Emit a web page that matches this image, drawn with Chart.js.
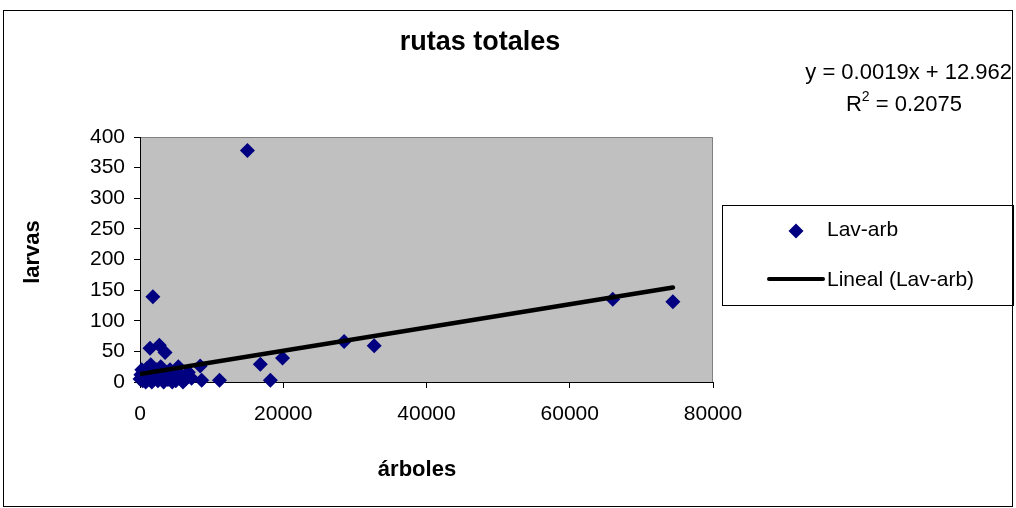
<!DOCTYPE html>
<html>
<head>
<meta charset="utf-8">
<script src="https://cdn.jsdelivr.net/npm/chart.js@4.4.1/dist/chart.umd.min.js"></script>
<style>
  html, body { margin: 0; padding: 0; background: #ffffff; }
  #wrap { width: 1016px; height: 508px; position: relative; }
</style>
</head>
<body>
<div id="wrap"><canvas id="c" width="1016" height="508"></canvas></div>
<script>
// Trees counted per route (x) and larvae found (y)
const arbolesX = [0, 120, 250, 380, 500, 650, 800, 950, 1100, 1300, 1400, 1500, 1650, 1800, 1900,
  2100, 2300, 2500, 2700, 2900, 3050, 3300, 3500, 3700, 3900, 4200, 4500, 4700, 5000, 5350,
  5600, 6000, 6300, 6750, 7200, 8400, 8610, 11100, 15000, 16800, 18200, 19900, 28500, 32700,
  66000, 74400];
const larvasY = [5, 12, 20, 2, 8, 15, 0, 22, 4, 10, 55, 28, 0, 139, 14,
  6, 20, 2, 60, 25, 10, 0, 48, 16, 4, 20, 0, 8, 2, 25,
  12, 0, 4, 16, 6, 26, 3, 3, 378, 29, 3, 39, 66, 59,
  135, 131];

// Axis ticks
const xTicks = [0, 20000, 40000, 60000, 80000];
const yTicks = [0, 50, 100, 150, 200, 250, 300, 350, 400];

// Linear trend (Lineal)
const trendSlope = 0.0019;
const trendIntercept = 12.962;
const trendR2 = 0.2075;

const seriesName = 'Lav-arb';
const trendName = 'Lineal (Lav-arb)';

const points = arbolesX.map((x, i) => ({ x: x, y: larvasY[i] }));
const xMin = Math.min(...arbolesX), xMax = Math.max(...arbolesX);
const trendPoints = [xMin, xMax].map(x => ({ x: x, y: trendSlope * x + trendIntercept }));

const FONT = '"Liberation Sans", Arial, sans-serif';
const NAVY = '#000080';

function diamond(ctx, x, y, r) {
  ctx.beginPath();
  ctx.moveTo(x - r, y);
  ctx.lineTo(x, y - r);
  ctx.lineTo(x + r, y);
  ctx.lineTo(x, y + r);
  ctx.closePath();
  ctx.fill();
}

const decor = {
  id: 'decor',
  beforeDraw(chart) {
    const { ctx, chartArea: a } = chart;
    ctx.save();
    ctx.fillStyle = '#ffffff';
    ctx.fillRect(0, 0, chart.width, chart.height);
    // plot area
    ctx.fillStyle = '#c0c0c0';
    ctx.fillRect(a.left, a.top, a.right - a.left, a.bottom - a.top);
    ctx.strokeStyle = '#808080';
    ctx.lineWidth = 1;
    ctx.beginPath();
    ctx.moveTo(a.left, a.top + 0.5);
    ctx.lineTo(a.right - 0.5, a.top + 0.5);
    ctx.lineTo(a.right - 0.5, a.bottom);
    ctx.stroke();
    ctx.restore();
  },
  afterDraw(chart) {
    const ctx = chart.ctx;
    ctx.save();
    // outer frame
    ctx.strokeStyle = '#000000';
    ctx.lineWidth = 1;
    ctx.strokeRect(3.5, 10.5, 1009, 496);

    ctx.fillStyle = '#000000';
    ctx.textBaseline = 'middle';

    // title
    ctx.textAlign = 'center';
    ctx.font = 'bold 27px ' + FONT;
    ctx.fillText('rutas totales', 480, 43);

    // axis titles
    ctx.font = 'bold 22px ' + FONT;
    ctx.fillText('árboles', 417, 470);
    ctx.save();
    ctx.translate(33, 252);
    ctx.rotate(-Math.PI / 2);
    ctx.fillText('larvas', 0, 0);
    ctx.restore();

    // trend equation
    ctx.font = '22px ' + FONT;
    ctx.textAlign = 'right';
    ctx.fillText('y = ' + trendSlope + 'x + ' + trendIntercept, 1012, 73);
    const left = 'R', sup = '2', right = ' = ' + trendR2;
    const wL = ctx.measureText(left).width, wR = ctx.measureText(right).width;
    ctx.font = '14px ' + FONT;
    const wS = ctx.measureText(sup).width;
    let x0 = 904 - (wL + wS + wR) / 2;
    ctx.textAlign = 'left';
    ctx.font = '22px ' + FONT;
    ctx.fillText(left, x0, 105);
    ctx.font = '14px ' + FONT;
    ctx.fillText(sup, x0 + wL, 97);
    ctx.font = '22px ' + FONT;
    ctx.fillText(right, x0 + wL + wS, 105);

    // legend
    ctx.strokeStyle = '#000000';
    ctx.lineWidth = 1;
    ctx.strokeRect(722.5, 205.5, 291, 100);
    ctx.fillStyle = NAVY;
    diamond(ctx, 796, 231, 7.5);
    ctx.strokeStyle = '#000000';
    ctx.lineWidth = 4;
    ctx.lineCap = 'round';
    ctx.beginPath();
    ctx.moveTo(769, 279);
    ctx.lineTo(823, 279);
    ctx.stroke();
    ctx.fillStyle = '#000000';
    ctx.font = '21px ' + FONT;
    ctx.fillText(seriesName, 827, 230);
    ctx.fillText(trendName, 827, 280);
    ctx.restore();
  }
};

new Chart(document.getElementById('c'), {
  type: 'scatter',
  data: {
    datasets: [
      {
        label: trendName,
        type: 'line',
        data: trendPoints,
        borderColor: '#000000',
        borderWidth: 4.5,
        borderCapStyle: 'round',
        pointRadius: 0,
        fill: false,
        order: 0
      },
      {
        label: seriesName,
        data: points,
        pointStyle: 'rectRot',
        pointRadius: 7.5,
        pointBackgroundColor: NAVY,
        pointBorderWidth: 0,
        pointHoverRadius: 7.5,
        clip: false,
        order: 1
      }
    ]
  },
  options: {
    responsive: false,
    animation: false,
    events: [],
    layout: { padding: { left: 80, right: 303, top: 137, bottom: 86 } },
    plugins: { legend: { display: false }, tooltip: { enabled: false }, title: { display: false } },
    scales: {
      x: {
        type: 'linear',
        min: xTicks[0],
        max: xTicks[xTicks.length - 1],
        afterBuildTicks: s => { s.ticks = xTicks.map(v => ({ value: v })); },
        afterFit: s => { s.height = 40; },
        ticks: { color: '#000000', font: { family: FONT, size: 21 }, padding: 14, maxRotation: 0,
          autoSkip: false, callback: v => String(v) },
        grid: { drawOnChartArea: false, drawTicks: true, tickLength: 6, tickColor: '#000000' },
        border: { display: true, color: '#000000', width: 1 }
      },
      y: {
        type: 'linear',
        min: yTicks[0],
        max: yTicks[yTicks.length - 1],
        afterBuildTicks: s => { s.ticks = yTicks.map(v => ({ value: v })); },
        afterFit: s => { s.width = 60; },
        ticks: { color: '#000000', font: { family: FONT, size: 21 }, padding: 9, autoSkip: false,
          callback: v => String(v) },
        grid: { drawOnChartArea: false, drawTicks: true, tickLength: 6, tickColor: '#000000' },
        border: { display: true, color: '#000000', width: 1 }
      }
    }
  },
  plugins: [decor]
});
</script>
</body>
</html>
